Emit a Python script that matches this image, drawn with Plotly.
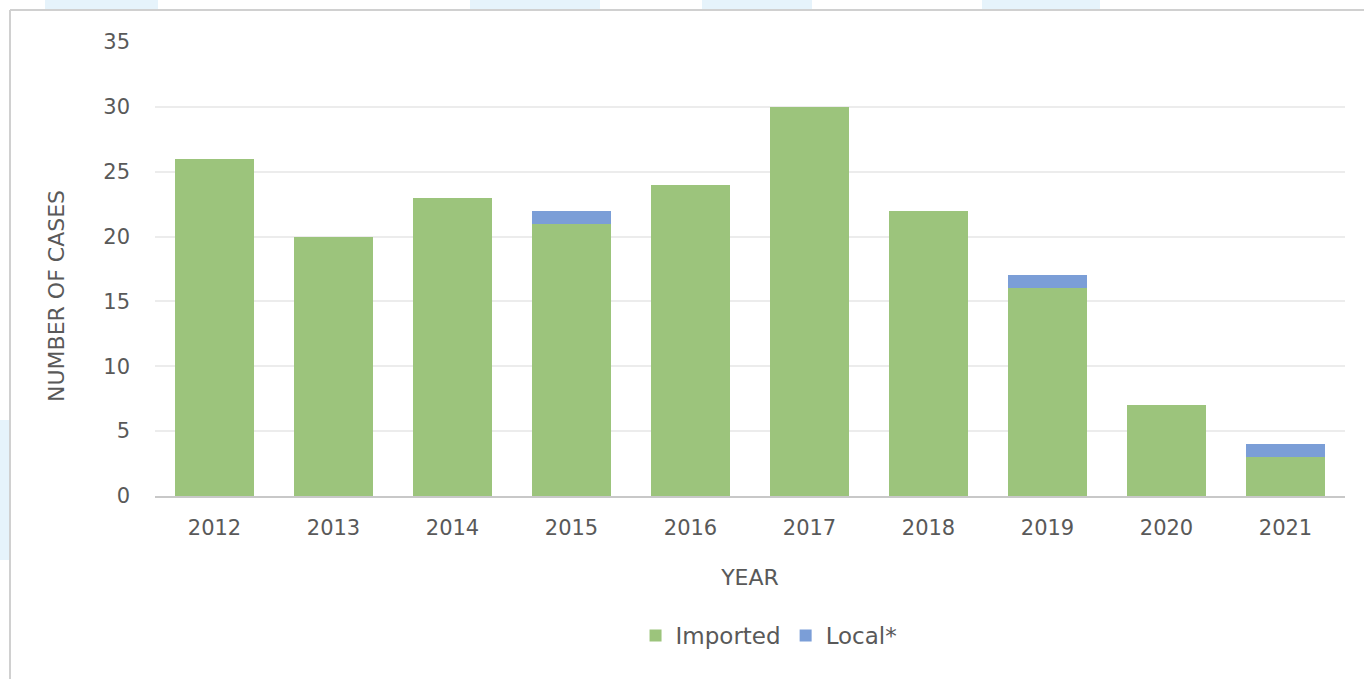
import plotly.graph_objects as go

years = ["2012", "2013", "2014", "2015", "2016", "2017", "2018", "2019", "2020", "2021"]
imported = [26, 20, 23, 21, 24, 30, 22, 16, 7, 3]
local = [0, 0, 0, 1, 0, 0, 0, 1, 0, 1]

FONT = "DejaVu Sans"
GREY = "#595959"

fig = go.Figure()
fig.add_trace(go.Bar(x=years, y=imported, name="Imported", marker_color="#9cc47c",
                     marker_line_width=0))
fig.add_trace(go.Bar(x=years, y=local, name="Local*", marker_color="#7b9ed7",
                     marker_line_width=0))

# plot area spans pixels x 155..1345, y 42..496; helpers convert page pixels to paper coords
def px(x):
    return (x - 155) / 1190


def py(y):
    return (496 - y) / 454


# decorative page background: light blue tabs along the top and left edge, grey frame
shapes = []
for x0, x1 in [(45, 158), (470, 600), (702, 812), (982, 1100)]:
    shapes.append(dict(type="rect", xref="paper", yref="paper",
                       x0=px(x0), x1=px(x1), y0=py(0), y1=py(10),
                       fillcolor="#e6f3fb", line_width=0, layer="below"))
shapes.append(dict(type="rect", xref="paper", yref="paper",
                   x0=px(0), x1=px(10), y0=py(560), y1=py(420),
                   fillcolor="#e6f3fb", line_width=0, layer="below"))
shapes.append(dict(type="line", xref="paper", yref="paper",
                   x0=px(10), x1=px(1364), y0=py(10), y1=py(10),
                   line=dict(color="#d0d0d0", width=2)))
shapes.append(dict(type="line", xref="paper", yref="paper",
                   x0=px(10), x1=px(10), y0=py(10), y1=py(679),
                   line=dict(color="#d0d0d0", width=2)))

# vertical axis title, placed slightly below the plot centre
annotations = [dict(text="NUMBER OF CASES", xref="paper", yref="paper",
                    x=px(56), y=py(296), xanchor="center", yanchor="middle",
                    textangle=-90, showarrow=False,
                    font=dict(family=FONT, size=22, color=GREY))]

fig.update_layout(
    barmode="stack",
    bargap=0.33,
    width=1364, height=679,
    margin=dict(l=155, r=19, t=42, b=183),
    paper_bgcolor="white", plot_bgcolor="white",
    font=dict(family=FONT, size=21, color=GREY),
    shapes=shapes,
    annotations=annotations,
    xaxis=dict(title=dict(text="YEAR", font=dict(size=22, color=GREY), standoff=30),
               showline=True, linecolor="#c8c8c8", linewidth=2,
               ticks="", ticklabelstandoff=12, tickfont=dict(size=21, color=GREY)),
    yaxis=dict(range=[0, 35], dtick=5, showgrid=True, gridcolor="#ececec", gridwidth=1.5,
               zeroline=False, ticks="", ticklabelstandoff=24,
               tickfont=dict(size=21, color=GREY)),
    legend=dict(orientation="h", x=0.516, xanchor="center", y=-0.26, yanchor="top",
                font=dict(size=23, color=GREY), traceorder="normal", itemwidth=30),
)

fig.write_html("out.html")
